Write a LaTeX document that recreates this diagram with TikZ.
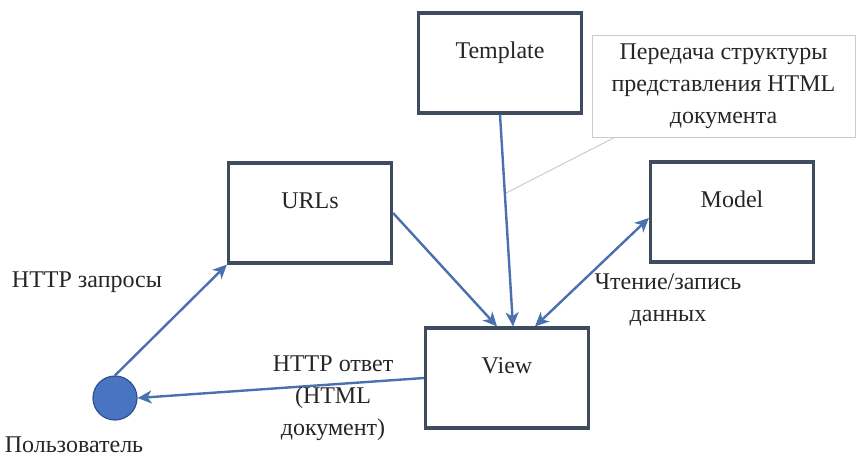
\documentclass[tikz,border=0pt]{standalone}
\usepackage{fontspec}
\setmainfont{Liberation Serif}
\usetikzlibrary{calc,arrows.meta}
\definecolor{frame}{HTML}{3E4C5E}
\definecolor{link}{HTML}{4A70AE}
\definecolor{dot}{HTML}{4874C2}
\definecolor{dotrim}{HTML}{2F528F}
\definecolor{ink}{HTML}{262626}

\begin{document}
\begin{tikzpicture}[x=1pt,y=-1pt,font=\fontsize{24}{32}\selectfont,
  box/.style={draw=frame,line width=3.2pt,fill=white,minimum width=163pt,minimum height=100pt,text height=17pt,text depth=27pt,text=ink},
  arr/.style={link,line width=2.4pt,-{Stealth[length=14pt,width=13pt,inset=4pt]}},
  lbl/.style={text=ink,align=center,inner sep=0pt}]
\useasboundingbox (0,0) rectangle (856,461);
\node[box] (template) at (500,63){Template};\node[box] (urls) at (310,213){URLs};
\node[box] (model) at (732,212){Model};\node[box] (view) at (507,378){View};
\node[circle,fill=dot,draw=dotrim,line width=1.2pt,minimum size=44pt,inner sep=0pt] (user) at (115,398){};
\node[draw=gray!40,line width=1pt,minimum width=263pt,minimum height=102pt,align=center,text=ink] (note) at (723.5,86){Передача структуры\\представления HTML\\документа};
\coordinate (mark) at (506,193);
\draw[gray!40,line width=1pt] ($(note.south west)+(23,0)$)--(mark);
% connectors
\draw[arr] (user.north)--(urls.south west);
\draw[arr] (urls.east)--([xshift=-10pt]view.north);
\draw[arr] (template.south)--([xshift=6pt]view.north);
\draw[arr,{Stealth[length=14pt,width=13pt,inset=4pt]}-{Stealth[length=14pt,width=13pt,inset=4pt]}] ([xshift=28pt]view.north)--([yshift=-6pt]model.west);
\draw[arr] (view.west)--(user.east);
\node[lbl] (req) at (87,282){HTTP запросы};\node[lbl] (who) at (74,445){Пользователь};
\node[lbl] (resp) at (333,398){HTTP ответ\\(HTML\\документ)};
\node[lbl] (rw) at (668,300){Чтение/запись\\данных};
\end{tikzpicture}
\end{document}
